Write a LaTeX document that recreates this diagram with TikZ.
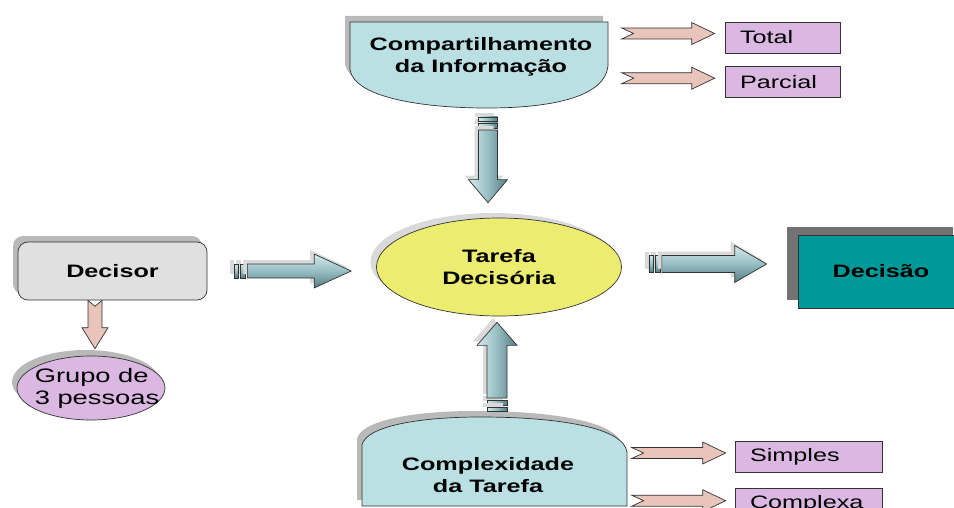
\documentclass[tikz,border=0pt]{standalone}
\usepackage{fontspec}
\setmainfont{Liberation Sans}[FakeStretch=1.4]
\usetikzlibrary{calc,positioning,shapes.geometric,shadows}

\definecolor{infoblue}{RGB}{187,224,228}
\definecolor{decgray}{RGB}{224,224,224}
\definecolor{taskyellow}{RGB}{236,236,112}
\definecolor{grouplilac}{RGB}{218,184,226}
\definecolor{arrowpink}{RGB}{232,196,186}
\definecolor{decteal}{RGB}{0,153,153}
\definecolor{steellight}{RGB}{212,234,236}
\definecolor{steelmid}{RGB}{150,190,194}
\definecolor{steeldark}{RGB}{84,124,130}

\tikzset{
  boldtxt/.style={font=\fontsize{18}{21.5}\selectfont\bfseries, align=center},
  plaintxt/.style={font=\fontsize{18}{21.5}\selectfont},
  outline/.style={draw=black!80, line width=0.7pt},
  backshadow/.style={general shadow={fill=gray!55, shadow xshift=-5pt, shadow yshift=6pt}},
  softshadow/.style={general shadow={fill=gray!30, shadow xshift=-4pt, shadow yshift=4pt}},
  steelh/.style={outline, top color=steellight, bottom color=steeldark, middle color=steelmid, softshadow},
  steelv/.style={outline, left color=steellight, right color=steeldark, middle color=steelmid, softshadow},
  pinkarrow/.style={outline, fill=arrowpink},
  option/.style={rectangle, outline, fill=grouplilac, plaintxt, align=left,
    minimum height=31pt, inner xsep=15pt, inner ysep=0pt},
}

% block arrow: style, tail, tip, shaft half width, head half width, head length, notch
\newcommand{\blockarrow}[7]{%
  \path[#1] ($(#2)!#4!90:(#3)$)
    -- ($(#3)!#6!(#2)!#4!-90:(#2)$)
    -- ($(#3)!#6!(#2)!#5!-90:(#2)$)
    -- (#3)
    -- ($(#3)!#6!(#2)!#5!90:(#2)$)
    -- ($(#3)!#6!(#2)!#4!90:(#2)$)
    -- ($(#2)!#4!-90:(#3)$)
    -- ($(#2)!#7!(#3)$) -- cycle;}

% two short bars behind the tail of an arrow
\newcommand{\tailbars}[4]{%
  \foreach \a/\b in {2pt/7pt, 9pt/13pt}
    \path[#1] ($(#2)!-\a!(#3)!#4!90:(#3)$) -- ($(#2)!-\b!(#3)!#4!90:(#3)$)
      -- ($(#2)!-\b!(#3)!#4!-90:(#3)$) -- ($(#2)!-\a!(#3)!#4!-90:(#3)$) -- cycle;}

\begin{document}
\begin{tikzpicture}[x=1pt, y=-1pt]
  \useasboundingbox (0,0) rectangle (954,508);
  \clip (0,0) rectangle (954,508);

  % top and bottom factors
  \draw[outline, fill=infoblue, backshadow] (350,22) -- (608,22) -- (608,66)
    .. controls (605,96) and (555,108) .. (487,108)
    .. controls (420,108) and (355,97) .. (350,70) -- cycle;
  \node[boldtxt] (info) at (481,57) {Compartilhamento\\da Informação};
  \coordinate (infobot) at (488,108);

  \draw[outline, fill=infoblue, backshadow] (362,506) -- (362,445)
    .. controls (366,426) and (420,417) .. (480,417)
    .. controls (560,417) and (624,428) .. (627,452) -- (627,506) -- cycle;
  \node[boldtxt] (complex) at (488,475) {Complexidade\\da Tarefa};
  \coordinate (comptop) at (497,417);

  % main nodes
  \node[rectangle, rounded corners=10pt, outline, fill=decgray, minimum width=189pt,
    minimum height=58pt, backshadow, boldtxt] (decisor) at (112.5,271) {Decisor};
  \node[ellipse, outline, fill=taskyellow, minimum width=245pt, minimum height=98pt,
    general shadow={fill=gray!30, shadow xshift=-6pt, shadow yshift=5pt},
    boldtxt] (tarefa) at (499,267) {Tarefa\\Decisória};
  \node[ellipse, outline, fill=grouplilac, minimum width=148pt, minimum height=64pt,
    backshadow, label={[font=\fontsize{19.5}{22}\selectfont, align=left, xshift=6pt]center:Grupo de\\3 pessoas}]
    (grupo) at (91,388) {};
  \node[rectangle, outline, fill=decteal, minimum width=166pt, minimum height=73pt,
    general shadow={fill=black!55, shadow xshift=-11pt, shadow yshift=8pt},
    boldtxt] (decisao) at (881,271.5) {Decisão};

  % options
  \node[option, text width=85pt] (total) at (782.5,37.5) {Total};
  \node[option, text width=85pt, below=13pt of total] (parcial) {Parcial};
  \node[option, text width=117pt] (simples) at (808.5,456.5) {Simples};
  \node[option, text width=117pt, below=16pt of simples] (complexa) {Complexa};

  % arrows
  \tailbars{steelv}{[yshift=-22pt]infobot}{[xshift=-11pt,yshift=15pt]tarefa.north}{9.5pt}
  \blockarrow{steelv}{[yshift=-22pt]infobot}{[xshift=-11pt,yshift=15pt]tarefa.north}{9.5pt}{19.5pt}{23pt}{0pt}
  \tailbars{steelv}{[yshift=19pt]comptop}{[xshift=-2pt,yshift=-6pt]tarefa.south}{10pt}
  \blockarrow{steelv}{[yshift=19pt]comptop}{[xshift=-2pt,yshift=-6pt]tarefa.south}{10pt}{20pt}{23pt}{0pt}
  \tailbars{steelh}{[xshift=40pt]decisor.east}{[xshift=-25pt,yshift=-4pt]tarefa.west}{7pt}
  \blockarrow{steelh}{[xshift=40pt]decisor.east}{[xshift=-25pt,yshift=-4pt]tarefa.west}{7pt}{17pt}{37pt}{0pt}
  \tailbars{steelh}{[xshift=40pt,yshift=3pt]tarefa.east}{[xshift=-31pt,yshift=7.5pt]decisao.west}{8.5pt}
  \blockarrow{steelh}{[xshift=40pt,yshift=3pt]tarefa.east}{[xshift=-31pt,yshift=7.5pt]decisao.west}{8.5pt}{18.5pt}{32pt}{0pt}

  \blockarrow{pinkarrow}{[xshift=-17.5pt]decisor.south}{[xshift=4pt,yshift=7pt]grupo.north}{7pt}{13pt}{21pt}{6pt}
  \blockarrow{pinkarrow}{[xshift=-103pt,yshift=4pt]total.west}{[xshift=-10pt,yshift=4pt]total.west}{5.5pt}{11pt}{23pt}{12pt}
  \blockarrow{pinkarrow}{[xshift=-103pt,yshift=4pt]parcial.west}{[xshift=-10pt,yshift=4pt]parcial.west}{5.5pt}{11pt}{23pt}{12pt}
  \blockarrow{pinkarrow}{[xshift=-103pt,yshift=3.5pt]simples.west}{[xshift=-9pt,yshift=3.5pt]simples.west}{5.5pt}{11pt}{23pt}{12pt}
  \blockarrow{pinkarrow}{[xshift=-103pt,yshift=3.5pt]complexa.west}{[xshift=-9pt,yshift=3.5pt]complexa.west}{5.5pt}{11pt}{23pt}{12pt}
\end{tikzpicture}
\end{document}
